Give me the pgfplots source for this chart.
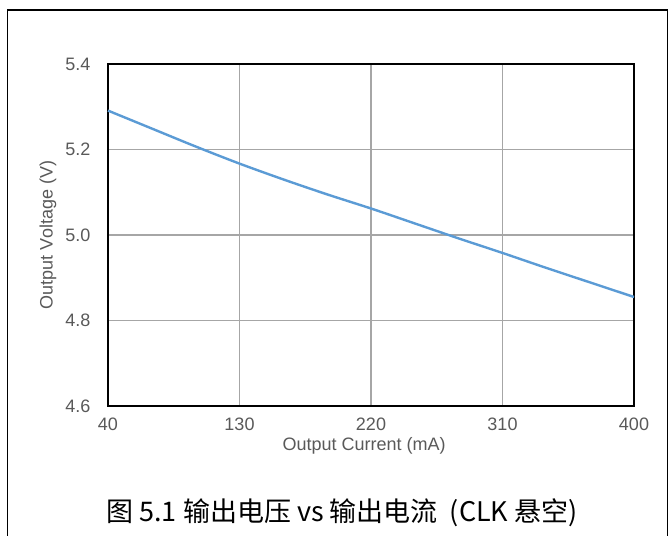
\documentclass[border=0pt]{standalone}
\usepackage{fontspec}
\setmainfont{Liberation Sans}
\newfontfamily\cjk{Noto Sans CJK SC}
\usepackage{pgfplots}
\pgfplotsset{compat=1.18}
\definecolor{txtgray}{HTML}{595959}
\definecolor{gridgray}{HTML}{A6A6A6}
\definecolor{lineblue}{HTML}{5B9BD5}
\begin{document}
\begin{tikzpicture}
\useasboundingbox (0,0) rectangle (669bp,536bp);
\draw[line width=1.5bp] (7.5bp,-5bp) -- (7.5bp,526bp) -- (667.5bp,526bp) -- (667.5bp,-5bp);
\begin{axis}[
    at={(108bp,130bp)}, anchor=south west,
    width=526bp, height=342bp, scale only axis,
    xmin=40, xmax=400, ymin=4.6, ymax=5.4,
    xtick={40,130,220,310,400},
    ytick={4.6,4.8,5.0,5.2,5.4},
    yticklabel style={/pgf/number format/fixed, /pgf/number format/fixed zerofill, /pgf/number format/precision=1, xshift=-14bp},
    /pgf/number format/assume math mode=true,
    tick style={draw=none},
    grid=major,
    major grid style={gridgray, line width=1.2bp},
    axis line style={black, line width=2bp},
    ticklabel style={font=\fontsize{18bp}{20bp}\selectfont, text=txtgray},
    xticklabel style={yshift=-8bp},
    xlabel={Output Current (mA)},
    ylabel={Output Voltage (V)},
    every axis x label/.style={at={(axis description cs:0.487,-0.117)}, anchor=center,
        font=\fontsize{18bp}{20bp}\selectfont, text=txtgray},
    every axis y label/.style={at={(axis description cs:-0.114,0.5)}, anchor=center, rotate=90,
        font=\fontsize{18bp}{20bp}\selectfont, text=txtgray},
    clip=false,
]
\addplot[lineblue, line width=2.4bp, smooth, mark=none] table {
x y
40 5.291
70 5.249
100 5.207
130 5.167
160 5.130
190 5.095
220 5.062
250 5.027
280 4.992
310 4.958
340 4.923
370 4.889
400 4.855
};
\end{axis}
\node[anchor=center, font=\cjk\fontsize{27bp}{30bp}\selectfont] at (342bp,23bp) {图 5.1 输出电压 vs 输出电流\ \ (CLK 悬空)};
\end{tikzpicture}
\end{document}
